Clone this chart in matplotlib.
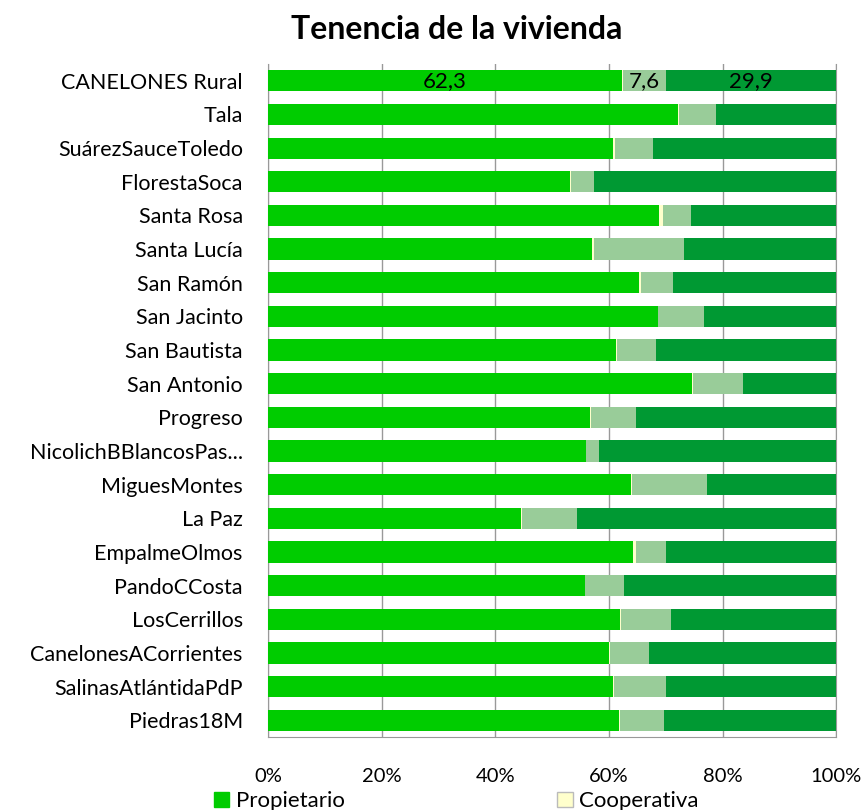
import numpy as np
import matplotlib.pyplot as plt
from matplotlib.patches import Patch

plt.rcParams['font.family'] = ['Lato', 'DejaVu Sans']

# localidades (top to bottom as in the chart)
localidades = ['CANELONES Rural', 'Tala', 'SuárezSauceToledo', 'FlorestaSoca',
               'Santa Rosa', 'Santa Lucía', 'San Ramón', 'San Jacinto',
               'San Bautista', 'San Antonio', 'Progreso', 'NicolichBBlancosPas...',
               'MiguesMontes', 'La Paz', 'EmpalmeOlmos', 'PandoCCosta',
               'LosCerrillos', 'CanelonesACorrientes', 'SalinasAtlántidaPdP', 'Piedras18M']

# percentages
propietario = [62.3, 72.1, 60.8, 53.2, 68.8, 57.1, 65.3, 68.6, 61.3, 74.6,
               56.7, 55.9, 63.9, 44.6, 64.2, 55.7, 62.0, 60.0, 60.7, 61.8]
cooperativa = [0.2, 0.3, 0.2, 0.1, 0.7, 0.3, 0.3, 0.1, 0.1, 0.2,
               0.1, 0.1, 0.1, 0.1, 0.6, 0.1, 0.2, 0.1, 0.2, 0.1]
inquilino = [7.6, 6.5, 6.7, 4.0, 5.0, 15.8, 5.6, 8.0, 6.9, 8.8,
             8.0, 2.3, 13.2, 9.6, 5.3, 6.9, 8.8, 6.9, 9.2, 7.8]
otro = [29.9, 21.1, 32.3, 42.7, 25.5, 26.8, 28.8, 23.3, 31.7, 16.4,
        35.2, 41.7, 22.8, 45.7, 29.9, 37.3, 29.0, 33.0, 29.9, 30.3]

series = [('Propietario', propietario, '#00CC00'),
          ('Cooperativa', cooperativa, '#FFFFCC'),
          ('Inquilino', inquilino, '#99CC99'),
          ('Otro', otro, '#009933')]

fig = plt.figure(figsize=(8.64, 8.1), dpi=100)
ax = fig.add_axes([0.310, 0.090, 0.658, 0.831])

y = np.arange(len(localidades))[::-1]
left = np.zeros(len(localidades))
for name, vals, col in series:
    vals = np.array(vals)
    ax.barh(y, vals, left=left, height=0.63, color=col, label=name, zorder=3)
    left += vals

# data labels on the first row
row0 = [propietario[0], inquilino[0], otro[0]]
starts = [0, propietario[0] + cooperativa[0], propietario[0] + cooperativa[0] + inquilino[0]]
for s, v in zip(starts, row0):
    ax.text(s + v / 2, y[0], f'{v:.1f}'.replace('.', ','), ha='center', va='center',
            fontsize=16, color='black', zorder=4)

ax.set_xlim(0, 100)
ax.set_ylim(-0.5, len(localidades) - 0.5)
ax.set_xticks(np.arange(0, 101, 20))
ax.set_xticklabels([f'{v}%' for v in range(0, 101, 20)], fontsize=14.5)
ax.set_yticks(y)
ax.set_yticklabels(localidades, fontsize=15.5)
ax.tick_params(axis='y', length=0, pad=18)
ax.tick_params(axis='x', length=0, pad=22)
ax.grid(axis='x', color='#999999', linewidth=1, zorder=0)
for sp in ['left', 'bottom', 'right']:
    ax.spines[sp].set_color('#999999')
ax.spines['top'].set_visible(False)

fig.text(0.528, 0.963, 'Tenencia de la vivienda', ha='center', va='center',
         fontsize=23, fontweight='bold')

handles = [Patch(facecolor='#00CC00', edgecolor='#00CC00', label='Propietario'),
           Patch(facecolor='#FFFFCC', edgecolor='#BBBBBB', label='Cooperativa')]
fig.legend(handles=handles, loc='center', bbox_to_anchor=(0.528, 0.011), ncol=2,
           frameon=False, fontsize=16, handlelength=0.7, handleheight=0.7,
           handletextpad=0.3, columnspacing=9.55, borderpad=0)

fig.savefig('out.png', dpi=100)
